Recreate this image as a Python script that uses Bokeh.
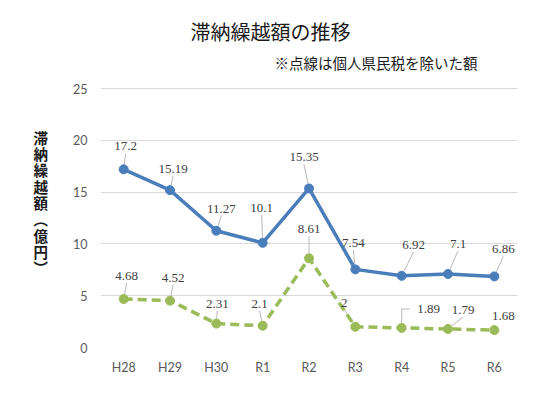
import math
from bokeh.plotting import figure
from bokeh.models import ColumnDataSource, LabelSet, Label, FixedTicker
from bokeh.embed import file_html
from bokeh.resources import INLINE

# data
years = ["H28", "H29", "H30", "R1", "R2", "R3", "R4", "R5", "R6"]
total = [17.2, 15.19, 11.27, 10.1, 15.35, 7.54, 6.92, 7.1, 6.86]
excl_kenminzei = [4.68, 4.52, 2.31, 2.1, 8.61, 2, 1.89, 1.79, 1.68]
y_ticks = [0, 5, 10, 15, 20, 25]

title_text = "滞納繰越額の推移"
note_text = "※点線は個人県民税を除いた額"
ylabel_chars = ["滞", "納", "繰", "越", "額", "︵", "億", "円", "︶"]

# label placement (px from point: right, up) and leader style
total_off = [(2, 23), (3, 21), (5, 22), (-1, 35), (-5, 31), (-2, 26), (12, 31), (10, 30), (9, 27)]
excl_off = [(3, 23), (3, 23), (1, 20), (-3, 22), (0, 29), (-11, 24), (27, 19), (15, 19), (9, 14)]
total_leader = ["line"] * 9
excl_leader = ["line"] * 6 + ["elbow", "line", None]

BLUE = "#4A7EBB"
GREEN = "#9BBB59"
FONT_NUM = "Lato"
FONT_JP = "Noto Sans CJK JP"

# page geometry: value axis 0..25 runs from y=347 up to y=88; the frame is
# stretched up to y=8 so the titles can sit inside it as labels
LEFT, RIGHT, BOTTOM, TOP25, FTOP = 100, 517, 347, 88, 8
KX = (RIGHT - LEFT) / len(years)
KY = (BOTTOM - TOP25) / 25.0
y_max = (BOTTOM - FTOP) / KY


def to_x(px):
    return -0.5 + (px - LEFT) / KX


def to_y(py):
    return (BOTTOM - py) / KY


xs = list(range(len(years)))

p = figure(width=550, height=403, x_range=(-0.5, 8.5), y_range=(0, y_max),
           title=None, toolbar_location=None, output_backend="svg",
           min_border_left=LEFT, min_border_right=550 - RIGHT,
           min_border_top=FTOP, min_border_bottom=403 - BOTTOM)
p.outline_line_color = None
p.background_fill_color = "white"
p.border_fill_color = "white"

p.xgrid.grid_line_color = None
p.ygrid.grid_line_color = "#D9D9D9"
p.ygrid.grid_line_width = 1

p.yaxis.ticker = FixedTicker(ticks=y_ticks)
p.xaxis.ticker = FixedTicker(ticks=xs)
p.xaxis.major_label_overrides = {i: y for i, y in enumerate(years)}
for ax in (p.xaxis, p.yaxis):
    ax.axis_line_color = None
    ax.major_tick_line_color = None
    ax.minor_tick_line_color = None
    ax.major_tick_out = 0
    ax.major_tick_in = 0
    ax.minor_tick_out = 0
    ax.minor_tick_in = 0
    ax.major_label_text_font = FONT_NUM
    ax.major_label_text_font_size = "12.5px"
    ax.major_label_text_color = "#595959"
p.yaxis.major_label_standoff = 13
p.xaxis.major_label_standoff = 12

# vertical axis title, characters stacked upright (leading blanks push it down)
p.yaxis.axis_label = " \n \n \n" + "\n".join(ylabel_chars)
p.yaxis.axis_label_orientation = "horizontal"
p.yaxis.axis_label_text_font = FONT_JP
p.yaxis.axis_label_text_font_size = "14.5px"
p.yaxis.axis_label_text_font_style = "bold"
p.yaxis.axis_label_text_color = "#1A1A1A"
p.yaxis.axis_label_text_line_height = 0.776
p.yaxis.axis_label_standoff = 22


def leaders(ys, offs, styles):
    lx, ly = [], []
    for x, y, (ox, oy), st in zip(xs, ys, offs, styles):
        if st is None:
            continue
        if st == "elbow":
            pts = [(0, 5), (0, oy), (8, oy)]
        else:
            ex, ey = ox, oy - 7
            L = math.hypot(ex, ey)
            if L < 9:
                continue
            pts = [(ex * 5 / L, ey * 5 / L), (ex, ey)]
        lx.append([x + a / KX for a, b in pts])
        ly.append([y + b / KY for a, b in pts])
    return lx, ly


for ys, offs, styles in ((total, total_off, total_leader), (excl_kenminzei, excl_off, excl_leader)):
    lx, ly = leaders(ys, offs, styles)
    p.multi_line(lx, ly, line_color="#A6A6A6", line_width=0.8)

p.line(xs, total, line_color=BLUE, line_width=3.5)
p.scatter(xs, total, size=9, fill_color=BLUE, line_color=BLUE)
p.line(xs, excl_kenminzei, line_color=GREEN, line_width=3.5, line_dash="9 5")
p.scatter(xs, excl_kenminzei, size=9, fill_color=GREEN, line_color=GREEN)

for ys, offs in ((total, total_off), (excl_kenminzei, excl_off)):
    src = ColumnDataSource(dict(
        x=xs, y=ys, text=[f"{v:g}" for v in ys],
        ox=[o[0] for o in offs], oy=[o[1] for o in offs]))
    p.add_layout(LabelSet(x="x", y="y", text="text", x_offset="ox", y_offset="oy", source=src,
                          text_align="center", text_baseline="middle",
                          text_font=FONT_NUM, text_font_size="13px", text_color="#404040"))

# titles
p.add_layout(Label(x=to_x(270), y=to_y(31), text=title_text, text_align="center",
                   text_baseline="middle", text_font=FONT_JP, text_font_size="20px",
                   text_color="#1A1A1A"))
p.add_layout(Label(x=to_x(477), y=to_y(62), text=note_text, text_align="right",
                   text_baseline="middle", text_font=FONT_JP, text_font_size="14.5px",
                   text_color="#1A1A1A"))

open("out.html", "w").write(file_html(p, INLINE))
